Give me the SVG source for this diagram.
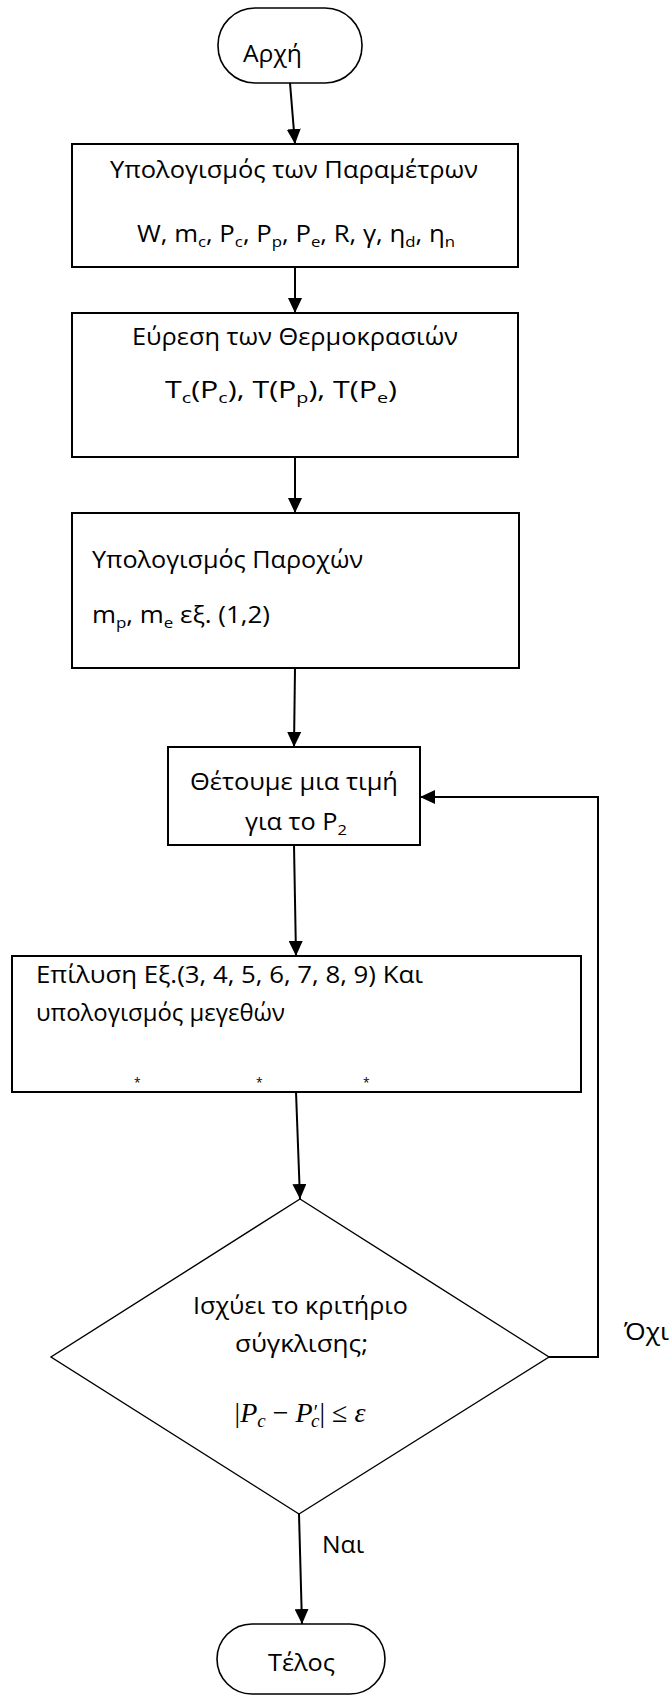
<svg xmlns="http://www.w3.org/2000/svg" width="670" height="1695" viewBox="0 0 670 1695">
  <defs>
    <marker id="arrow" viewBox="0 0 15 14" refX="15" refY="7" markerWidth="15" markerHeight="14" markerUnits="userSpaceOnUse" orient="auto">
      <path d="M0,0 L15,7 L0,14 Z" fill="#000"/>
    </marker>
    <style>
      .box { fill: #fff; stroke: #000; stroke-width: 2; }
      .term { fill: #fff; stroke: #000; stroke-width: 1.6; }
      .dia { fill: #fff; stroke: #000; stroke-width: 1.4; }
      .edge { fill: none; stroke: #000; stroke-width: 2; marker-end: url(#arrow); }
      text { font-family: "Open Sans", "Noto Sans", "DejaVu Sans", sans-serif; font-size: 23px; fill: #000; }
      .sub { font-size: 15px; }
      .math { font-family: "Liberation Serif", "DejaVu Serif", serif; font-size: 28px; }
      .it { font-style: italic; }
      .star { font-size: 12px; }
    </style>
  </defs>

  <!-- connectors -->
  <g id="connectors">
    <line class="edge" x1="290" y1="83" x2="295" y2="144"/>
    <line class="edge" x1="295" y1="267" x2="295" y2="313"/>
    <line class="edge" x1="295" y1="457" x2="295" y2="513"/>
    <line class="edge" x1="295" y1="668" x2="294" y2="747"/>
    <line class="edge" x1="294" y1="845" x2="296" y2="956"/>
    <line class="edge" x1="296" y1="1092" x2="300" y2="1199"/>
    <line class="edge" x1="299" y1="1514" x2="302" y2="1624"/>
    <polyline class="edge" points="549,1357 598,1357 598,797 420,797"/>
    <text x="322" y="1553" textLength="42" lengthAdjust="spacingAndGlyphs">Ναι</text>
    <text x="624" y="1340" textLength="45" lengthAdjust="spacingAndGlyphs">Όχι</text>
  </g>

  <!-- start -->
  <g id="start">
    <rect class="term" x="218" y="8" width="144" height="75" rx="37" ry="37"/>
    <text x="243" y="62" textLength="59" lengthAdjust="spacingAndGlyphs">Αρχή</text>
  </g>

  <!-- parameters -->
  <g id="params">
    <rect class="box" x="72" y="144" width="446" height="123"/>
    <text x="110" y="178" textLength="368" lengthAdjust="spacingAndGlyphs">Υπολογισμός των Παραμέτρων</text>
    <text x="137" y="242" textLength="318" lengthAdjust="spacingAndGlyphs">W, m<tspan class="sub" dy="5">c</tspan><tspan dy="-5">, P</tspan><tspan class="sub" dy="5">c</tspan><tspan dy="-5">, P</tspan><tspan class="sub" dy="5">p</tspan><tspan dy="-5">, P</tspan><tspan class="sub" dy="5">e</tspan><tspan dy="-5">, R, γ, η</tspan><tspan class="sub" dy="5">d</tspan><tspan dy="-5">, η</tspan><tspan class="sub" dy="5">n</tspan></text>
  </g>

  <!-- temperatures -->
  <g id="temps">
    <rect class="box" x="72" y="313" width="446" height="144"/>
    <text x="132" y="345" textLength="326" lengthAdjust="spacingAndGlyphs">Εύρεση των Θερμοκρασιών</text>
    <text x="165" y="398" textLength="232" lengthAdjust="spacingAndGlyphs">T<tspan class="sub" dy="5">c</tspan><tspan dy="-5">(P</tspan><tspan class="sub" dy="5">c</tspan><tspan dy="-5">), T(P</tspan><tspan class="sub" dy="5">p</tspan><tspan dy="-5">), T(P</tspan><tspan class="sub" dy="5">e</tspan><tspan dy="-5">)</tspan></text>
  </g>

  <!-- flow rates -->
  <g id="flows">
    <rect class="box" x="72" y="513" width="447" height="155"/>
    <text x="92" y="568" textLength="271" lengthAdjust="spacingAndGlyphs">Υπολογισμός Παροχών</text>
    <text x="92" y="623" textLength="178" lengthAdjust="spacingAndGlyphs">m<tspan class="sub" dy="5">p</tspan><tspan dy="-5">, m</tspan><tspan class="sub" dy="5">e</tspan><tspan dy="-5"> εξ. (1,2)</tspan></text>
  </g>

  <!-- initial guess -->
  <g id="guess">
    <rect class="box" x="168" y="747" width="252" height="98"/>
    <text x="190" y="790" textLength="208" lengthAdjust="spacingAndGlyphs">Θέτουμε μια τιμή</text>
    <text x="245" y="830" textLength="102" lengthAdjust="spacingAndGlyphs">για το P<tspan class="sub" dy="5">2</tspan></text>
  </g>

  <!-- solve -->
  <g id="solve">
    <rect class="box" x="12" y="956" width="569" height="136"/>
    <text x="36" y="983" textLength="387" lengthAdjust="spacingAndGlyphs">Επίλυση Εξ.(3, 4, 5, 6, 7, 8, 9) Και</text>
    <text x="36" y="1021" textLength="249" lengthAdjust="spacingAndGlyphs">υπολογισμός μεγεθών</text>
    <text class="star" x="134" y="1087">*</text>
    <text class="star" x="256" y="1087">*</text>
    <text class="star" x="363" y="1087">*</text>
  </g>

  <!-- convergence test -->
  <g id="check">
    <polygon class="dia" points="300,1199 549,1357 299,1514 51,1357"/>
    <text x="193" y="1314" textLength="215" lengthAdjust="spacingAndGlyphs">Ισχύει το κριτήριο</text>
    <text x="235" y="1352" textLength="133" lengthAdjust="spacingAndGlyphs">σύγκλισης;</text>
    <text class="math" x="300" y="1422" text-anchor="middle">|<tspan class="it">P</tspan><tspan class="it" font-size="19" dy="5">c</tspan><tspan dy="-5"> − </tspan><tspan class="it">P</tspan><tspan class="it" font-size="20" dy="-3">′</tspan><tspan class="it" font-size="19" dx="-6" dy="8">c</tspan><tspan dy="-5">| ≤ </tspan><tspan class="it">ε</tspan></text>
  </g>

  <!-- end -->
  <g id="end">
    <rect class="term" x="217" y="1624" width="168" height="70" rx="35" ry="35"/>
    <text x="268" y="1671" textLength="67" lengthAdjust="spacingAndGlyphs">Τέλος</text>
  </g>
</svg>
